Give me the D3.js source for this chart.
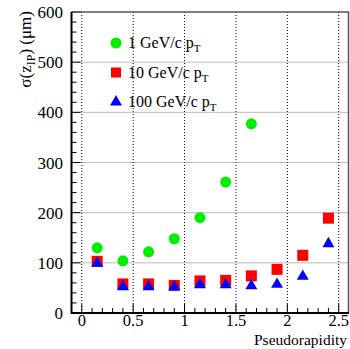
<!DOCTYPE html>
<html>
<head>
<meta charset="utf-8">
<script src="https://cdn.jsdelivr.net/npm/d3@7.9.0/dist/d3.min.js"></script>
<style>
  body { margin: 0; background: #fff; }
  text { font-family: "Liberation Serif", "Times New Roman", "DejaVu Serif", serif; }
</style>
</head>
<body>
<svg id="chart" width="350" height="349"></svg>
<script>
const eta = [0.15, 0.4, 0.65, 0.9, 1.15, 1.4, 1.65, 1.9, 2.15, 2.4];
const pt1 = [130, 104, 122, 148, 190, 261, 377];
const pt10 = [103, 58, 58, 55, 64, 65, 74, 87, 115, 189];
const pt100 = [101, 54, 54, 54, 58, 58, 56, 59, 75, 140];
const xTicks = [0, 0.5, 1, 1.5, 2, 2.5];
const yTicks = [0, 100, 200, 300, 400, 500, 600];

const svg = d3.select('#chart');
const m = { left: 71.5, right: 349, top: 12, bottom: 313 };

const x = d3.scaleLinear().domain([-0.1, 2.6]).range([m.left, m.right]);
const y = d3.scaleLinear().domain([0, 600]).range([m.bottom, m.top]);

// grid
svg.append('g').selectAll('line').data(xTicks).join('line')
    .attr('x1', d => x(d)).attr('x2', d => x(d))
    .attr('y1', m.top).attr('y2', m.bottom)
    .attr('stroke', '#000').attr('stroke-width', 1).attr('stroke-dasharray', '1,2');
svg.append('g').selectAll('line').data(yTicks.slice(1, -1)).join('line')
    .attr('x1', m.left).attr('x2', m.right)
    .attr('y1', d => y(d)).attr('y2', d => y(d))
    .attr('stroke', '#777').attr('stroke-width', 1).attr('stroke-dasharray', '1,1');

// ticks (inside, ROOT style)
const yMinor = d3.range(0, 601, 20);
svg.append('g').selectAll('line').data(yMinor).join('line')
    .attr('x1', m.left).attr('x2', d => m.left + (d % 100 === 0 ? 9 : 5))
    .attr('y1', d => y(d)).attr('y2', d => y(d))
    .attr('stroke', '#000');
const xMinor = d3.range(0, 26).map(i => i / 10);
svg.append('g').selectAll('line').data(xMinor).join('line')
    .attr('x1', d => x(d)).attr('x2', d => x(d))
    .attr('y1', m.bottom).attr('y2', (d, i) => m.bottom - (i % 5 === 0 ? 9 : 5))
    .attr('stroke', '#000');

// frame
svg.append('line').attr('x1', m.left).attr('x2', m.right).attr('y1', m.top).attr('y2', m.top)
    .attr('stroke', '#555').attr('stroke-width', 1.5);
svg.append('line').attr('x1', m.right - 0.5).attr('x2', m.right - 0.5).attr('y1', m.top).attr('y2', m.bottom)
    .attr('stroke', '#555').attr('stroke-width', 1.5);
svg.append('line').attr('x1', m.left).attr('x2', m.left).attr('y1', m.top).attr('y2', m.bottom + 1)
    .attr('stroke', '#000').attr('stroke-width', 2);
svg.append('line').attr('x1', m.left).attr('x2', m.right).attr('y1', m.bottom).attr('y2', m.bottom)
    .attr('stroke', '#000').attr('stroke-width', 2);

// tick labels
svg.append('g').selectAll('text').data(yTicks).join('text')
    .attr('x', 63).attr('y', d => y(d) + 6)
    .attr('text-anchor', 'end').attr('font-size', 17)
    .text(d => d);
svg.append('g').selectAll('text').data(xTicks).join('text')
    .attr('x', d => x(d)).attr('y', 326)
    .attr('text-anchor', 'middle').attr('font-size', 16.5)
    .text(d => d);

// axis titles
svg.append('text').attr('x', 347).attr('y', 345).attr('text-anchor', 'end')
    .attr('font-size', 15.5).text('Pseudorapidity');
const yt = svg.append('text').attr('transform', 'translate(31,11) rotate(-90)')
    .attr('text-anchor', 'end').attr('font-size', 17);
yt.append('tspan').text('σ(z');
yt.append('tspan').attr('dy', 4).attr('font-size', 12).text('IP');
yt.append('tspan').attr('dy', -4).text(') (μm)');

// markers
const green = '#00ee00', red = '#ff0000', blue = '#0000ff';
const tri = d3.symbol().type(d3.symbolTriangle).size(62);
svg.append('g').selectAll('circle').data(pt1).join('circle')
    .attr('cx', (d, i) => x(eta[i])).attr('cy', d => y(d)).attr('r', 5.5).attr('fill', green);
svg.append('g').selectAll('rect').data(pt10).join('rect')
    .attr('x', (d, i) => x(eta[i]) - 5.5).attr('y', d => y(d) - 5.5)
    .attr('width', 11).attr('height', 11).attr('fill', red);
svg.append('g').selectAll('path').data(pt100).join('path')
    .attr('transform', (d, i) => `translate(${x(eta[i])},${y(d) + 1})`)
    .attr('d', tri).attr('fill', blue);

// legend
const legend = [
    { label: '1 GeV/c p', kind: 'circle', color: green },
    { label: '10 GeV/c p', kind: 'rect', color: red },
    { label: '100 GeV/c p', kind: 'tri', color: blue },
];
legend.forEach((d, i) => {
    const cy = 43 + i * 29.5;
    if (d.kind === 'circle') {
        svg.append('circle').attr('cx', 116).attr('cy', cy).attr('r', 5.5).attr('fill', d.color);
    } else if (d.kind === 'rect') {
        svg.append('rect').attr('x', 111).attr('y', cy - 5).attr('width', 10).attr('height', 10).attr('fill', d.color);
    } else {
        svg.append('path').attr('transform', `translate(116,${cy})`).attr('d', tri).attr('fill', d.color);
    }
    const t = svg.append('text').attr('x', 128).attr('y', cy + 5).attr('font-size', 16);
    t.append('tspan').text(d.label);
    t.append('tspan').attr('dy', 4).attr('font-size', 11).text('T');
});
</script>
</body>
</html>
